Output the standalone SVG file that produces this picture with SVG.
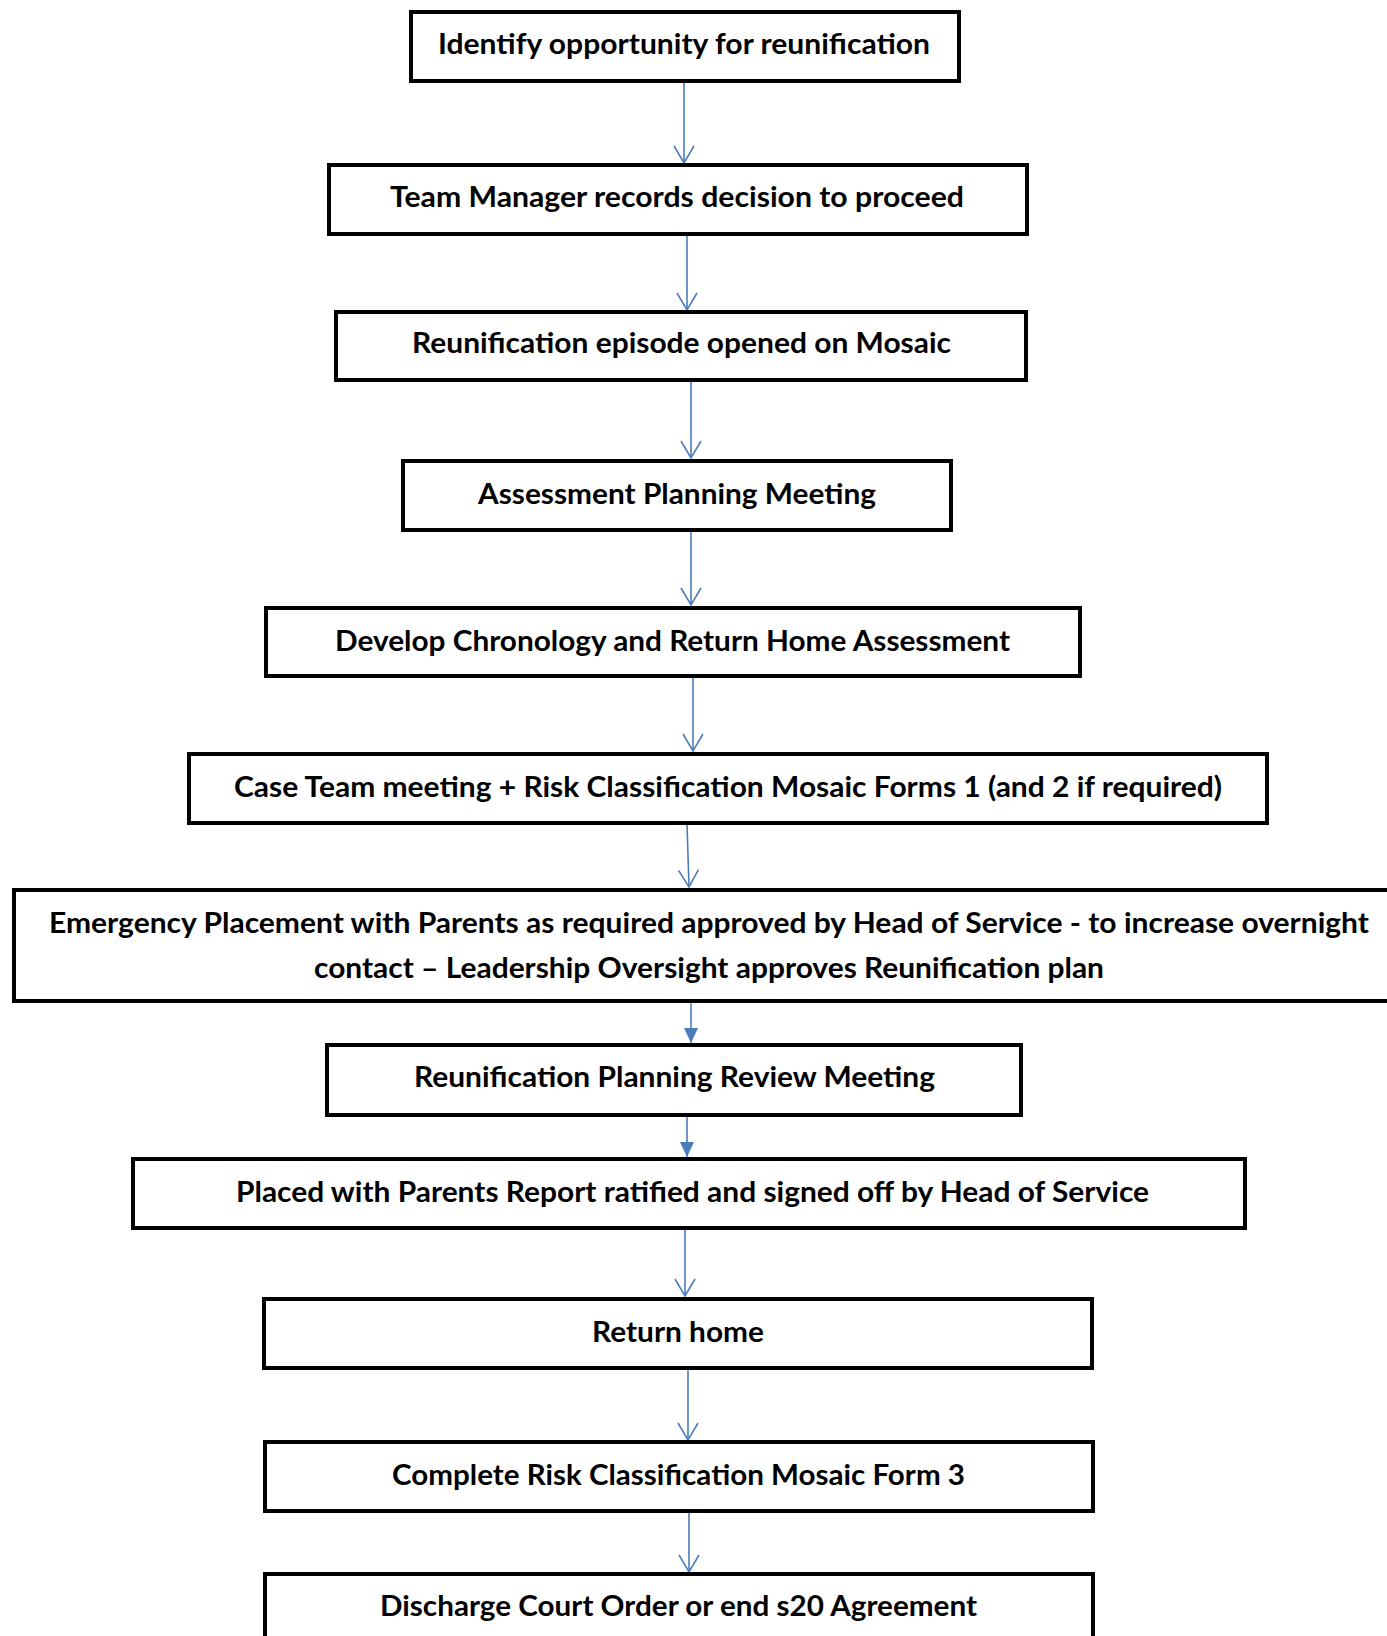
<svg xmlns="http://www.w3.org/2000/svg" width="1387" height="1636" viewBox="0 0 1387 1636">
<style>
.box{fill:#fff;stroke:#000;stroke-width:4}
.t{font-family:Lato,"Open Sans","Liberation Sans",sans-serif;font-weight:bold;font-size:28px;fill:#000}
.c{stroke:#4a7ebb;stroke-width:1.6;fill:none}
</style>
<defs>
<marker id="open" markerUnits="userSpaceOnUse" markerWidth="24" markerHeight="24" viewBox="-20 -12 24 24" refX="0" refY="0" orient="auto">
<path d="M-17,-10 L0,0 L-17,10" fill="none" stroke="#4a7ebb" stroke-width="1.6"/>
</marker>
<marker id="fill" markerUnits="userSpaceOnUse" markerWidth="20" markerHeight="20" viewBox="-16 -10 20 20" refX="0" refY="0" orient="auto">
<path d="M-15,-7 L0,0 L-15,7 Z" fill="#4a7ebb"/>
</marker>
</defs>
<rect width="1387" height="1636" fill="#fff"/>
<g id="connectors">
<line class="c" x1="684" y1="83" x2="684" y2="163" marker-end="url(#open)"/>
<line class="c" x1="687" y1="235" x2="687" y2="310" marker-end="url(#open)"/>
<line class="c" x1="691" y1="381" x2="691" y2="458" marker-end="url(#open)"/>
<line class="c" x1="691" y1="531" x2="691" y2="605" marker-end="url(#open)"/>
<line class="c" x1="693" y1="677" x2="693" y2="751" marker-end="url(#open)"/>
<line class="c" x1="687" y1="824" x2="689" y2="887" marker-end="url(#open)"/>
<line class="c" x1="691" y1="1002" x2="691" y2="1043" marker-end="url(#fill)"/>
<line class="c" x1="687" y1="1116" x2="687" y2="1157" marker-end="url(#fill)"/>
<line class="c" x1="685" y1="1229" x2="685" y2="1296" marker-end="url(#open)"/>
<line class="c" x1="688" y1="1369" x2="688" y2="1440" marker-end="url(#open)"/>
<line class="c" x1="689" y1="1512" x2="689" y2="1572" marker-end="url(#open)"/>
</g>
<g id="n1"><rect class="box" x="411" y="12" width="548" height="69"/><text class="t" x="438" y="54" textLength="492" lengthAdjust="spacingAndGlyphs">Identify opportunity for reunification</text></g>
<g id="n2"><rect class="box" x="329" y="165" width="698" height="69"/><text class="t" x="390" y="207" textLength="574" lengthAdjust="spacingAndGlyphs">Team Manager records decision to proceed</text></g>
<g id="n3"><rect class="box" x="336" y="312" width="690" height="68"/><text class="t" x="412" y="353" textLength="539" lengthAdjust="spacingAndGlyphs">Reunification episode opened on Mosaic</text></g>
<g id="n4"><rect class="box" x="403" y="461" width="548" height="69"/><text class="t" x="478" y="504" textLength="398" lengthAdjust="spacingAndGlyphs">Assessment Planning Meeting</text></g>
<g id="n5"><rect class="box" x="266" y="608" width="814" height="68"/><text class="t" x="335" y="651" textLength="675" lengthAdjust="spacingAndGlyphs">Develop Chronology and Return Home Assessment</text></g>
<g id="n6"><rect class="box" x="189" y="754" width="1078" height="69"/><text class="t" x="234" y="797" textLength="988" lengthAdjust="spacingAndGlyphs">Case Team meeting + Risk Classification Mosaic Forms 1 (and 2 if required)</text></g>
<g id="n7"><rect class="box" x="14" y="890" width="1400" height="111"/><text class="t" x="49" y="933" textLength="1320" lengthAdjust="spacingAndGlyphs">Emergency Placement with Parents as required approved by Head of Service - to increase overnight</text><text class="t" x="314" y="978" textLength="790" lengthAdjust="spacingAndGlyphs">contact – Leadership Oversight approves Reunification plan</text></g>
<g id="n8"><rect class="box" x="327" y="1045" width="694" height="70"/><text class="t" x="414" y="1087" textLength="521" lengthAdjust="spacingAndGlyphs">Reunification Planning Review Meeting</text></g>
<g id="n9"><rect class="box" x="133" y="1159" width="1112" height="69"/><text class="t" x="236" y="1202" textLength="913" lengthAdjust="spacingAndGlyphs">Placed with Parents Report ratified and signed off by Head of Service</text></g>
<g id="n10"><rect class="box" x="264" y="1299" width="828" height="69"/><text class="t" x="592" y="1342" textLength="172" lengthAdjust="spacingAndGlyphs">Return home</text></g>
<g id="n11"><rect class="box" x="265" y="1442" width="828" height="69"/><text class="t" x="392" y="1485" textLength="573" lengthAdjust="spacingAndGlyphs">Complete Risk Classification Mosaic Form 3</text></g>
<g id="n12"><rect class="box" x="265" y="1574" width="828" height="80"/><text class="t" x="380" y="1616" textLength="597" lengthAdjust="spacingAndGlyphs">Discharge Court Order or end s20 Agreement</text></g>
</svg>
